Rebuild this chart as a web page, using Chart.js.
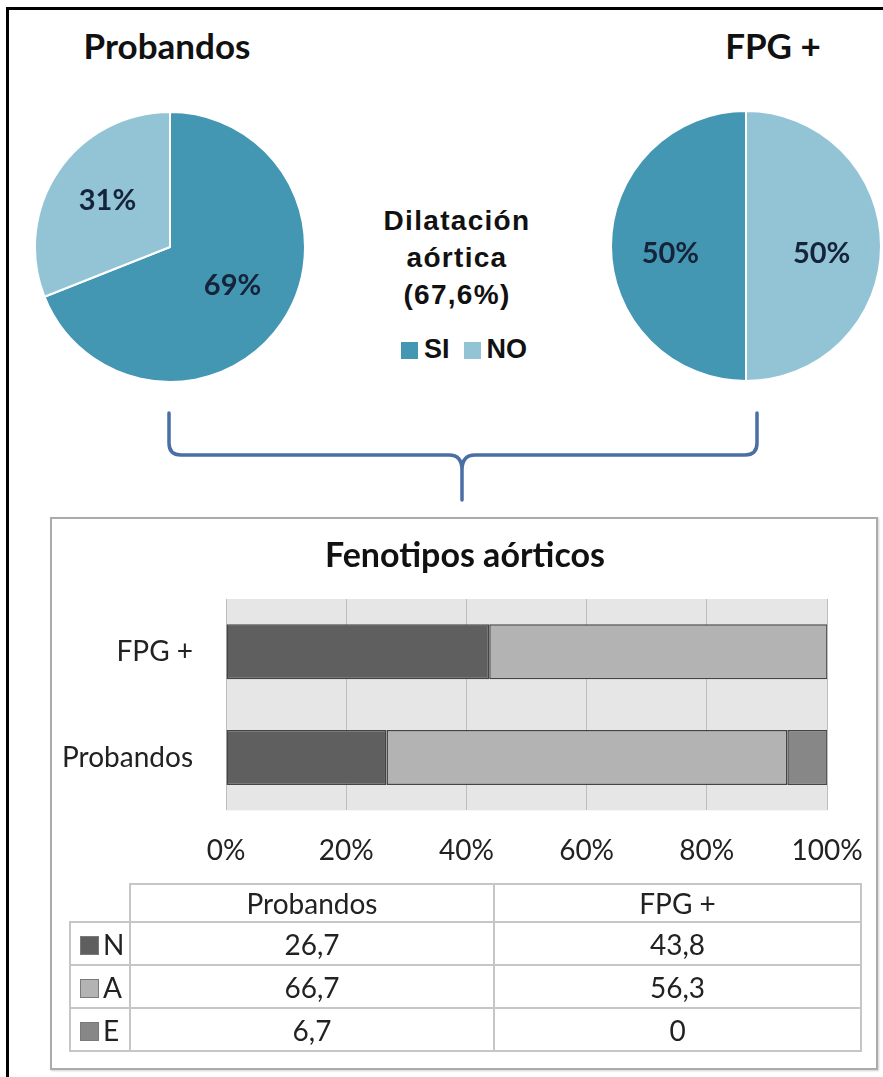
<!DOCTYPE html>
<html>
<head>
<meta charset="utf-8">
<script src="https://cdn.jsdelivr.net/npm/chart.js"></script>
<style>
    body { margin: 0; background: #fff; }
    #page { position: relative; width: 883px; height: 1077px; overflow: hidden; background: #fff; }
    #frame { position: absolute; left: 6px; top: 7px; width: 1000px; height: 1200px; border-left: 3px solid #000; border-top: 3px solid #000; }
    .pieTitle { position: absolute; width: 240px; text-align: center; font-family: Lato; font-weight: bold; font-size: 35px; color: #111; line-height: 40px; }
    #centerText { position: absolute; left: 317px; top: 202px; width: 280px; text-align: center; font-family: "Liberation Sans"; font-weight: bold; font-size: 28px; line-height: 37px; letter-spacing: 1.3px; color: #111; }
    #pieLegend { position: absolute; left: 317px; top: 331px; width: 280px; text-align: center; font-family: "Liberation Sans"; font-weight: bold; font-size: 27px; line-height: 37px; color: #111; }
    #pieLegend span.key { display: inline-block; width: 17px; height: 17px; margin: 0 6px 0 14px; vertical-align: -1px; }
    #box { position: absolute; left: 50px; top: 517px; width: 824px; height: 549px; border: 2px solid #ababab; box-shadow: 1px 1px 2px #d0d0d0; }
    #barTitle { position: absolute; left: 245px; width: 440px; top: 533px; text-align: center; font-family: Lato; font-weight: bold; font-size: 34px; line-height: 42px; color: #111; }
    canvas { position: absolute; }
    #tbl { position: absolute; left: 69px; top: 883px; border-collapse: collapse; font-family: Lato; font-size: 28px; color: #222; table-layout: fixed; }
    #tbl td { border: 2px solid #c6c6c6; text-align: center; padding: 0; }
    #tbl td.empty { border-top: none; border-left: none; }
    #tbl td.keyCell { text-align: left; padding-left: 9px; }
    #tbl span.sq { display: inline-block; width: 17px; height: 17px; border: 1px solid #7a7a7a; margin-right: 4px; vertical-align: 0px; }
</style>
</head>
<body>
<div id="page">
    <div id="frame"></div>

    <div class="pieTitle" style="left:47px; top:25px;">Probandos</div>
    <div class="pieTitle" style="left:653px; top:25px;">FPG +</div>

    <canvas id="pieProbandos" width="272" height="272" style="left:34px; top:111px;"></canvas>
    <canvas id="pieFpg" width="272" height="272" style="left:610px; top:110px;"></canvas>

    <div id="centerText">Dilatación<br>aórtica<br>(67,6%)</div>
    <div id="pieLegend"></div>

    <svg width="883" height="1077" style="position:absolute;left:0;top:0;">
        <path d="M169,413 L169,443 Q169,455 181,455 L449,455 Q462,455 462,470 L462,500 M462,470 Q462,455 475,455 L745,455 Q757,455 757,443 L757,413"
              fill="none" stroke="#4a6fa5" stroke-width="3.5" stroke-linejoin="round" stroke-linecap="round"/>
    </svg>

    <div id="box"></div>
    <div id="barTitle">Fenotipos aórticos</div>
    <canvas id="fenotiposChart" width="828" height="375" style="left:50px; top:517px;"></canvas>

    <table id="tbl"></table>
</div>

<script>
// pie data (dilatacion aortica)
const pieLabels = ['SI', 'NO'];
const pieColors = ['#4397b2', '#93c4d6'];
const probandosPie = [69, 31];
const fpgPie = [50, 50];

// fenotipos aorticos, % por grupo
const groups = ['Probandos', 'FPG +'];
const seriesNames = ['N', 'A', 'E'];
const nVals = [26.7, 43.8];
const aVals = [66.7, 56.3];
const eVals = [6.7, 0];
const seriesColors = ['#5f5f5f', '#b3b3b3', '#878787'];
const xTicks = [0, 20, 40, 60, 80, 100];

// draws the % text inside each slice
const sliceLabels = {
    id: 'sliceLabels',
    afterDatasetsDraw(chart, args, opts) {
        const ctx = chart.ctx;
        const meta = chart.getDatasetMeta(0);
        const vals = chart.data.datasets[0].data;
        ctx.save();
        ctx.font = opts.font;
        ctx.fillStyle = opts.color;
        ctx.textAlign = 'center';
        ctx.textBaseline = 'middle';
        meta.data.forEach((arc, i) => {
            const p = arc.getProps(['x', 'y', 'startAngle', 'endAngle', 'outerRadius'], true);
            const mid = (p.startAngle + p.endAngle) / 2;
            const r = p.outerRadius * opts.radius;
            ctx.fillText(vals[i] + '%', p.x + Math.cos(mid) * r, p.y + Math.sin(mid) * r + opts.dy);
        });
        ctx.restore();
    }
};

// grey plot area behind the bars
const plotBg = {
    id: 'plotBg',
    beforeDraw(chart, args, opts) {
        const { ctx, chartArea } = chart;
        ctx.save();
        ctx.fillStyle = opts.color;
        ctx.fillRect(chartArea.left, chartArea.top, chartArea.width, chartArea.height);
        ctx.restore();
    }
};

function loadPie(canvasId, values, rotation, dy) {
    const canvas = document.getElementById(canvasId);
    new Chart(canvas.getContext('2d'), {
        type: 'pie',
        data: {
            labels: pieLabels,
            datasets: [{
                data: values,
                backgroundColor: pieColors,
                borderColor: '#ffffff',
                borderWidth: 2
            }]
        },
        options: {
            responsive: false,
            animation: false,
            rotation: rotation,
            layout: { padding: 0 },
            plugins: {
                legend: { display: false },
                tooltip: { enabled: false },
                sliceLabels: { font: 'bold 29px Lato', color: '#15243a', radius: 0.56, dy: dy }
            }
        },
        plugins: [sliceLabels]
    });
}

function buildPieLegend() {
    const el = document.getElementById('pieLegend');
    el.innerHTML = pieLabels.map((l, i) =>
        '<span class="key" style="background:' + pieColors[i] + '"></span>' + l
    ).join('');
}

function loadFenotipos() {
    const canvas = document.getElementById('fenotiposChart');
    const allVals = [nVals, aVals, eVals];
    new Chart(canvas.getContext('2d'), {
        type: 'bar',
        data: {
            labels: groups,
            datasets: seriesNames.map((name, i) => ({
                label: name,
                data: allVals[i],
                backgroundColor: seriesColors[i],
                borderColor: '#444444',
                borderWidth: 1.5,
                borderSkipped: false,
                barPercentage: 0.52,
                categoryPercentage: 1
            }))
        },
        options: {
            indexAxis: 'y',
            responsive: false,
            animation: false,
            layout: { padding: { left: 0, right: 51, top: 82, bottom: 0 } },
            plugins: {
                legend: { display: false },
                tooltip: { enabled: false },
                plotBg: { color: '#e6e6e6' }
            },
            scales: {
                x: {
                    stacked: true,
                    min: 0,
                    max: 100,
                    afterBuildTicks(scale) {
                        scale.ticks = xTicks.map(v => ({ value: v }));
                    },
                    afterFit(scale) {
                        // layout padding already leaves room for the 100% label
                        scale.paddingLeft = 0;
                        scale.paddingRight = 0;
                    },
                    ticks: {
                        callback: v => v + '%',
                        color: '#222',
                        font: { family: 'Lato', size: 28 },
                        padding: 24,
                        maxRotation: 0
                    },
                    grid: { color: '#bdbdbd', drawTicks: false },
                    border: { display: false }
                },
                y: {
                    stacked: true,
                    reverse: true,
                    afterFit(scale) { scale.width = 176; },
                    ticks: {
                        color: '#222',
                        font: { family: 'Lato', size: 28 },
                        padding: 33
                    },
                    grid: { display: false, drawTicks: false },
                    border: { display: false }
                }
            }
        },
        plugins: [plotBg]
    });
}

function buildTable() {
    const allVals = [nVals, aVals, eVals];
    const fmt = v => String(v).replace('.', ',');
    let html = '<colgroup><col style="width:60px"><col style="width:364px"><col style="width:367px"></colgroup>';
    html += '<tr style="height:38px"><td class="empty"></td>' + groups.map(g => '<td>' + g + '</td>').join('') + '</tr>';
    seriesNames.forEach((name, i) => {
        html += '<tr style="height:43px"><td class="keyCell"><span class="sq" style="background:' + seriesColors[i] + '"></span>' + name + '</td>';
        html += allVals[i].map(v => '<td>' + fmt(v) + '</td>').join('') + '</tr>';
    });
    document.getElementById('tbl').innerHTML = html;
}

loadPie('pieProbandos', probandosPie, 0, -4);
loadPie('pieFpg', fpgPie, 180, 8);
buildPieLegend();
loadFenotipos();
buildTable();
</script>
</body>
</html>
